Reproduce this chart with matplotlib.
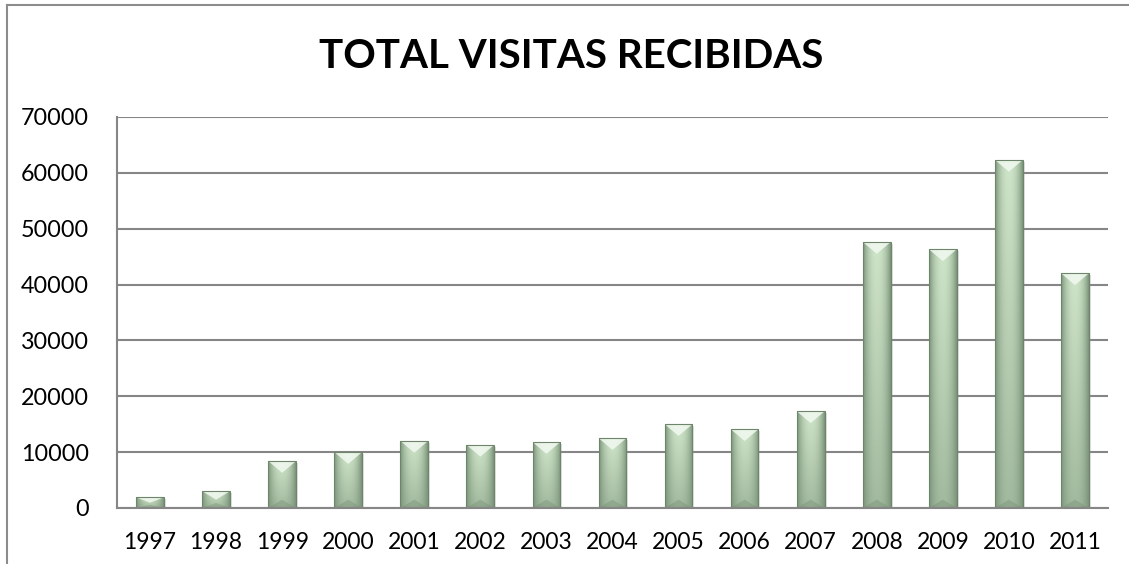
import matplotlib.pyplot as plt
import numpy as np
from matplotlib.colors import to_rgb
from matplotlib.lines import Line2D
from matplotlib.patches import Polygon

anios = ["1997", "1998", "1999", "2000", "2001", "2002", "2003", "2004",
         "2005", "2006", "2007", "2008", "2009", "2010", "2011"]
visitas = [1900, 3000, 8400, 10000, 12000, 11300, 11800, 12500,
           15000, 14100, 17300, 47600, 46300, 62300, 42000]

plt.rcParams["font.family"] = ["Lato", "DejaVu Sans"]

fig = plt.figure(figsize=(11.29, 5.64), dpi=100)
ax = fig.add_axes([0.1036, 0.0993, 0.8778, 0.6933])

x = np.arange(len(anios))
barras = ax.bar(x, visitas, width=0.42, color="#b5cfb0", zorder=2)

# degradado tipo "bisel" de Excel
claro = np.array(to_rgb("#cfe5ca"))
oscuro = np.array(to_rgb("#7c957a"))
h = np.linspace(-1, 1, 60)
perfil_h = 1 - np.abs(h) ** 2.2
v = np.linspace(0, 1, 100)[:, None]
mezcla = np.clip(perfil_h[None, :] * (0.45 + 0.55 * v), 0, 1)
img = oscuro + (claro - oscuro) * mezcla[..., None]

for b, val in zip(barras, visitas):
    x0, w = b.get_x(), b.get_width()
    # sombra
    sombra = plt.Rectangle((x0 + 0.03, -350), w, val, color="#000000",
                           alpha=0.12, lw=0, zorder=1.5)
    ax.add_patch(sombra)
    im = ax.imshow(img, extent=[x0, x0 + w, 0, val], origin="lower",
                   aspect="auto", zorder=2.1, interpolation="bilinear")
    im.set_clip_path(b)
    prof = min(2100, val * 0.5)
    tri = Polygon([(x0, val), (x0 + w, val), (x0 + w * 0.5, val - prof)],
                  closed=True, facecolor="#f2f9f0", edgecolor="none",
                  alpha=0.85, zorder=2.2)
    ax.add_patch(tri)
    tri2 = Polygon([(x0, 0), (x0 + w, 0), (x0 + w * 0.5, min(1500, val * 0.3))],
                   closed=True, facecolor="#6f886d", edgecolor="none",
                   alpha=0.35, zorder=2.2)
    ax.add_patch(tri2)
    ax.add_patch(plt.Rectangle((x0, 0), w, val, fill=False,
                               edgecolor="#6d856b", lw=0.8, zorder=2.3))

ax.set_xlim(-0.5, len(anios) - 0.5)
ax.set_ylim(0, 70000)
ax.set_yticks(range(0, 70001, 10000))
ax.set_xticks(x)
ax.set_xticklabels(anios)
ax.tick_params(axis="y", length=0, pad=20, labelsize=16.8)
ax.tick_params(axis="x", length=0, pad=17, labelsize=16.5)
ax.grid(True, axis="y", color="#868686", lw=1.5, zorder=0)
for s in ["top", "right"]:
    ax.spines[s].set_visible(False)
ax.spines["left"].set_color("#868686")
ax.spines["left"].set_linewidth(1.5)
ax.spines["bottom"].set_color("#868686")
ax.spines["bottom"].set_linewidth(1.5)

fig.text(0.506, 0.90, "TOTAL VISITAS RECIBIDAS", ha="center", va="center",
         fontsize=29, fontweight="bold")

# borde del área del gráfico
fig.add_artist(Line2D([7 / 1129, 7 / 1129], [0, 1 - 5 / 564],
                      color="#8c8c8c", lw=1.5))
fig.add_artist(Line2D([7 / 1129, 1], [1 - 5 / 564, 1 - 5 / 564],
                      color="#8c8c8c", lw=1.5))

fig.savefig("out.png", dpi=100)
